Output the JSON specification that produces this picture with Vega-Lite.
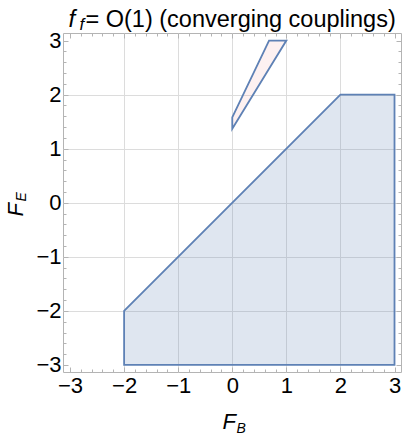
{
  "$schema": "https://vega.github.io/schema/vega-lite/v6.json",
  "width": 338,
  "height": 339,
  "autosize": "none",
  "padding": {"left": 63, "top": 33, "right": 4, "bottom": 64},
  "config": {
    "view": {"stroke": "#b4b4b4", "strokeWidth": 1},
    "font": "Liberation Sans",
    "axis": {"domain": false, "grid": false, "labels": false, "ticks": false, "tickColor": "#b4b4b4", "tickWidth": 1, "titleFontWeight": "normal", "titleColor": "black", "titleFont": "Liberation Sans", "labelFont": "Liberation Sans"}
  },
  "datasets": {
    "blue": [
      {"FB": -2, "top": -2, "bottom": -3},
      {"FB": 2, "top": 2, "bottom": -3},
      {"FB": 3, "top": 2, "bottom": -3}
    ],
    "pink": [
      {"FB": 0, "top": 1.58, "bottom": 1.37},
      {"FB": 0.68, "top": 3, "bottom": 2.48},
      {"FB": 1, "top": 3, "bottom": 3}
    ]
  },
  "resolve": {"axis": {"x": "independent", "y": "independent"}},
  "layer": [
    {
      "data": {"name": "blue"},
      "mark": {"type": "point", "opacity": 0},
      "encoding": {
        "x": {"field": "FB", "type": "quantitative", "scale": {"domain": [-3.13, 3.12], "nice": false, "zero": false},
          "axis": {"orient": "bottom", "values": [-2, -1, 0, 1, 2], "grid": true, "gridColor": "#dcdcdc", "gridWidth": 1, "zindex": 0, "title": null}},
        "y": {"field": "top", "type": "quantitative", "scale": {"domain": [-3.13, 3.14], "nice": false, "zero": false},
          "axis": {"orient": "left", "values": [-2, -1, 0, 1, 2], "grid": true, "gridColor": "#dcdcdc", "gridWidth": 1, "zindex": 0, "title": null}}
      }
    },
    {
      "data": {"name": "blue"},
      "mark": {"type": "area", "fill": "#5e81b5", "fillOpacity": 0.2, "stroke": "#5e81b5", "strokeWidth": 1.8},
      "encoding": {
        "x": {"field": "FB", "type": "quantitative", "scale": {"domain": [-3.13, 3.12], "nice": false, "zero": false},
          "axis": {"orient": "bottom", "values": [-3, -2, -1, 0, 1, 2, 3], "labels": true, "labelFontSize": 22, "labelColor": "black", "labelPadding": 3, "labelFlush": false, "labelOverlap": false, "zindex": 1,
            "title": "F", "titleFontSize": 22, "titleFontStyle": "italic", "titleAlign": "left", "titleBaseline": "alphabetic", "titleX": 159, "titleY": 56}},
        "y": {"field": "top", "type": "quantitative", "scale": {"domain": [-3.13, 3.14], "nice": false, "zero": false},
          "axis": {"orient": "left", "values": [-3, -2, -1, 0, 1, 2, 3], "labels": true, "labelFontSize": 22, "labelColor": "black", "labelPadding": 2, "labelFlush": false, "labelOverlap": false, "zindex": 1,
            "title": "F", "titleFontSize": 22, "titleFontStyle": "italic", "titleAngle": 270, "titleAlign": "left", "titleBaseline": "alphabetic", "titleX": -41, "titleY": 183}},
        "y2": {"field": "bottom"}
      }
    },
    {
      "data": {"name": "pink"},
      "mark": {"type": "area", "fill": "#f0a0a0", "fillOpacity": 0.15, "stroke": "#5e81b5", "strokeWidth": 1.8},
      "encoding": {
        "x": {"field": "FB", "type": "quantitative", "scale": {"domain": [-3.13, 3.12], "nice": false, "zero": false},
          "axis": {"orient": "bottom", "values": [-3, -2, -1, 0, 1, 2, 3], "ticks": true, "tickSize": -5, "zindex": 1,
            "title": "B", "titleFontSize": 14, "titleFontStyle": "italic", "titleAlign": "left", "titleBaseline": "alphabetic", "titleX": 173, "titleY": 60}},
        "y": {"field": "top", "type": "quantitative", "scale": {"domain": [-3.13, 3.14], "nice": false, "zero": false},
          "axis": {"orient": "left", "values": [-3, -2, -1, 0, 1, 2, 3], "ticks": true, "tickSize": -5, "zindex": 1,
            "title": "E", "titleFontSize": 14, "titleFontStyle": "italic", "titleAngle": 270, "titleAlign": "left", "titleBaseline": "alphabetic", "titleX": -38, "titleY": 168}},
        "y2": {"field": "bottom"}
      }
    },
    {
      "data": {"name": "blue"},
      "mark": {"type": "point", "opacity": 0},
      "encoding": {
        "x": {"field": "FB", "type": "quantitative", "scale": {"domain": [-3.13, 3.12], "nice": false, "zero": false},
          "axis": {"orient": "bottom", "values": [-2.8, -2.6, -2.4, -2.2, -1.8, -1.6, -1.4, -1.2, -0.8, -0.6, -0.4, -0.2, 0.2, 0.4, 0.6, 0.8, 1.2, 1.4, 1.6, 1.8, 2.2, 2.4, 2.6, 2.8], "ticks": true, "tickSize": -3, "zindex": 1, "title": null}},
        "y": {"field": "top", "type": "quantitative", "scale": {"domain": [-3.13, 3.14], "nice": false, "zero": false},
          "axis": {"orient": "left", "values": [-2.8, -2.6, -2.4, -2.2, -1.8, -1.6, -1.4, -1.2, -0.8, -0.6, -0.4, -0.2, 0.2, 0.4, 0.6, 0.8, 1.2, 1.4, 1.6, 1.8, 2.2, 2.4, 2.6, 2.8], "ticks": true, "tickSize": -3, "zindex": 1, "title": null}}
      }
    },
    {
      "data": {"name": "blue"},
      "mark": {"type": "point", "opacity": 0},
      "encoding": {
        "x": {"field": "FB", "type": "quantitative", "scale": {"domain": [-3.13, 3.12], "nice": false, "zero": false},
          "axis": {"orient": "top", "values": [-3, -2, -1, 0, 1, 2, 3], "ticks": true, "tickSize": -5, "zindex": 1,
            "title": "f", "titleFontSize": 24, "titleFontStyle": "italic", "titleAlign": "left", "titleBaseline": "alphabetic", "titleX": 5, "titleY": -7}},
        "y": {"field": "top", "type": "quantitative", "scale": {"domain": [-3.13, 3.14], "nice": false, "zero": false},
          "axis": {"orient": "right", "values": [-3, -2, -1, 0, 1, 2, 3], "ticks": true, "tickSize": -5, "zindex": 1, "title": null}}
      }
    },
    {
      "data": {"name": "blue"},
      "mark": {"type": "point", "opacity": 0},
      "encoding": {
        "x": {"field": "FB", "type": "quantitative", "scale": {"domain": [-3.13, 3.12], "nice": false, "zero": false},
          "axis": {"orient": "top", "values": [-2.8, -2.6, -2.4, -2.2, -1.8, -1.6, -1.4, -1.2, -0.8, -0.6, -0.4, -0.2, 0.2, 0.4, 0.6, 0.8, 1.2, 1.4, 1.6, 1.8, 2.2, 2.4, 2.6, 2.8], "ticks": true, "tickSize": -3, "zindex": 1,
            "title": "f", "titleFontSize": 17, "titleFontStyle": "italic", "titleAlign": "left", "titleBaseline": "alphabetic", "titleX": 16, "titleY": -4}},
        "y": {"field": "top", "type": "quantitative", "scale": {"domain": [-3.13, 3.14], "nice": false, "zero": false},
          "axis": {"orient": "right", "values": [-2.8, -2.6, -2.4, -2.2, -1.8, -1.6, -1.4, -1.2, -0.8, -0.6, -0.4, -0.2, 0.2, 0.4, 0.6, 0.8, 1.2, 1.4, 1.6, 1.8, 2.2, 2.4, 2.6, 2.8], "ticks": true, "tickSize": -3, "zindex": 1, "title": null}}
      }
    },
    {
      "data": {"name": "blue"},
      "mark": {"type": "point", "opacity": 0},
      "encoding": {
        "x": {"field": "FB", "type": "quantitative", "scale": {"domain": [-3.13, 3.12], "nice": false, "zero": false},
          "axis": {"orient": "top", "values": [0], "zindex": 1,
            "title": "= O(1) (converging couplings)", "titleFontSize": 23.5, "titleAlign": "left", "titleBaseline": "alphabetic", "titleX": 22, "titleY": -7}},
        "y": {"field": "top", "type": "quantitative", "scale": {"domain": [-3.13, 3.14], "nice": false, "zero": false}, "axis": null}
      }
    }
  ]
}
